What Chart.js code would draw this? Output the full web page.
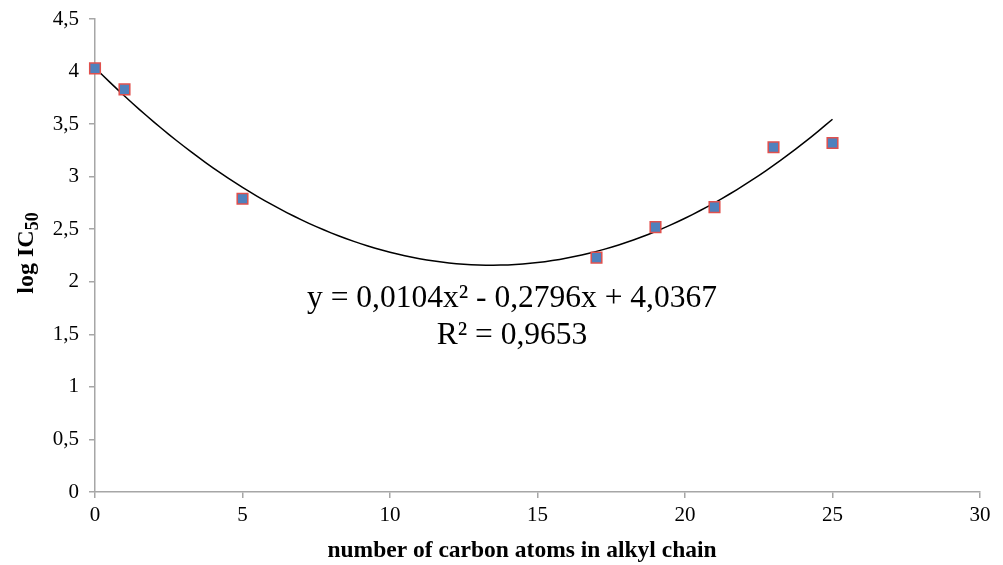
<!DOCTYPE html>
<html><head><meta charset="utf-8">
<script src="https://cdn.jsdelivr.net/npm/chart.js@4"></script>
<style>html,body{margin:0;padding:0;background:#fff}#wrap{width:1003px;height:565px}</style>
</head><body><div id="wrap"><canvas id="c" width="1003" height="565"></canvas></div>
<script>
const carbonAtoms = [0, 1, 5, 17, 19, 21, 23, 25];
const logIC50 = [4.03, 3.83, 2.79, 2.23, 2.52, 2.71, 3.28, 3.32];
const trendCoefficients = [4.0367, -0.2796, 0.0104]; // c0 + c1*x + c2*x^2 (from chart label)
const trendRange = [0, 25];
const equationLines = ['y = 0,0104x\u00b2 - 0,2796x + 4,0367', 'R\u00b2 = 0,9653'];
const xTitle = 'number of carbon atoms in alkyl chain';
const yTitleMain = 'log IC';
const yTitleSub = '50';

const scatterData = carbonAtoms.map((x, i) => ({x, y: logIC50[i]}));
const trendData = [];
for (let k = 0; k <= 100; k++) {
  const x = trendRange[0] + (trendRange[1] - trendRange[0]) * k / 100;
  trendData.push({x, y: trendCoefficients[0] + trendCoefficients[1]*x + trendCoefficients[2]*x*x});
}
const axisColor = '#a6a6a6';
const serif = "'Liberation Serif', 'Times New Roman', serif";

const textPlugin = {
  id: 'texts',
  afterDraw(chart) {
    const ctx = chart.ctx;
    ctx.save();
    ctx.fillStyle = '#000';
    ctx.font = '31.5px ' + serif;
    ctx.textAlign = 'center';
    ctx.textBaseline = 'alphabetic';
    ctx.fillText(equationLines[0], 512, 307);
    ctx.fillText(equationLines[1], 512, 344);
    // x title
    ctx.font = 'bold 23.5px ' + serif;
    ctx.fillText(xTitle, 522, 557);
    // y title with subscript
    ctx.translate(33, 253);
    ctx.rotate(-Math.PI/2);
    ctx.font = 'bold 24px ' + serif;
    const w1 = ctx.measureText(yTitleMain).width;
    ctx.font = 'bold 18px ' + serif;
    const w2 = ctx.measureText(yTitleSub).width;
    const start = -(w1 + w2)/2;
    ctx.textAlign = 'left';
    ctx.font = 'bold 24px ' + serif;
    ctx.fillText(yTitleMain, start, 0);
    ctx.font = 'bold 18px ' + serif;
    ctx.fillText(yTitleSub, start + w1, 5);
    ctx.restore();
  }
};

new Chart(document.getElementById('c'), {
  type: 'scatter',
  data: {
    datasets: [
      {
        label: 'trend',
        data: trendData,
        showLine: true,
        borderColor: '#000',
        borderWidth: 1.5,
        pointRadius: 0,
        tension: 0,
        order: 2
      },
      {
        label: 'log IC50',
        data: scatterData,
        pointStyle: 'rect',
        pointRadius: 7.5,
        backgroundColor: '#4F81BD',
        borderColor: '#E0504D',
        borderWidth: 1.5,
        clip: false,
        order: 1
      }
    ]
  },
  plugins: [textPlugin],
  options: {
    responsive: false,
    animation: false,
    layout: {padding: {left: 0, right: 23, top: 19, bottom: 0}},
    plugins: {legend: {display: false}, tooltip: {enabled: false}},
    scales: {
      x: {
        type: 'linear', min: 0, max: 30,
        ticks: {stepSize: 5, color: '#000', font: {family: serif, size: 21}, padding: 5},
        grid: {drawOnChartArea: false, drawTicks: true, tickLength: 6, color: axisColor, lineWidth: 1.5},
        border: {color: axisColor, width: 1.5},
        afterFit(s) { s.height = 73; s.paddingLeft = 0; s.paddingRight = 0; }
      },
      y: {
        type: 'linear', min: 0, max: 4.5,
        ticks: {stepSize: 0.5, color: '#000', font: {family: serif, size: 21}, padding: 10,
          callback: v => String(v).replace('.', ',')},
        grid: {drawOnChartArea: false, drawTicks: true, tickLength: 6, color: axisColor, lineWidth: 1.5},
        border: {color: axisColor, width: 1.5},
        afterFit(s) { s.width = 95; s.paddingTop = 0; s.paddingBottom = 0; }
      }
    }
  }
});
</script>
</body></html>
